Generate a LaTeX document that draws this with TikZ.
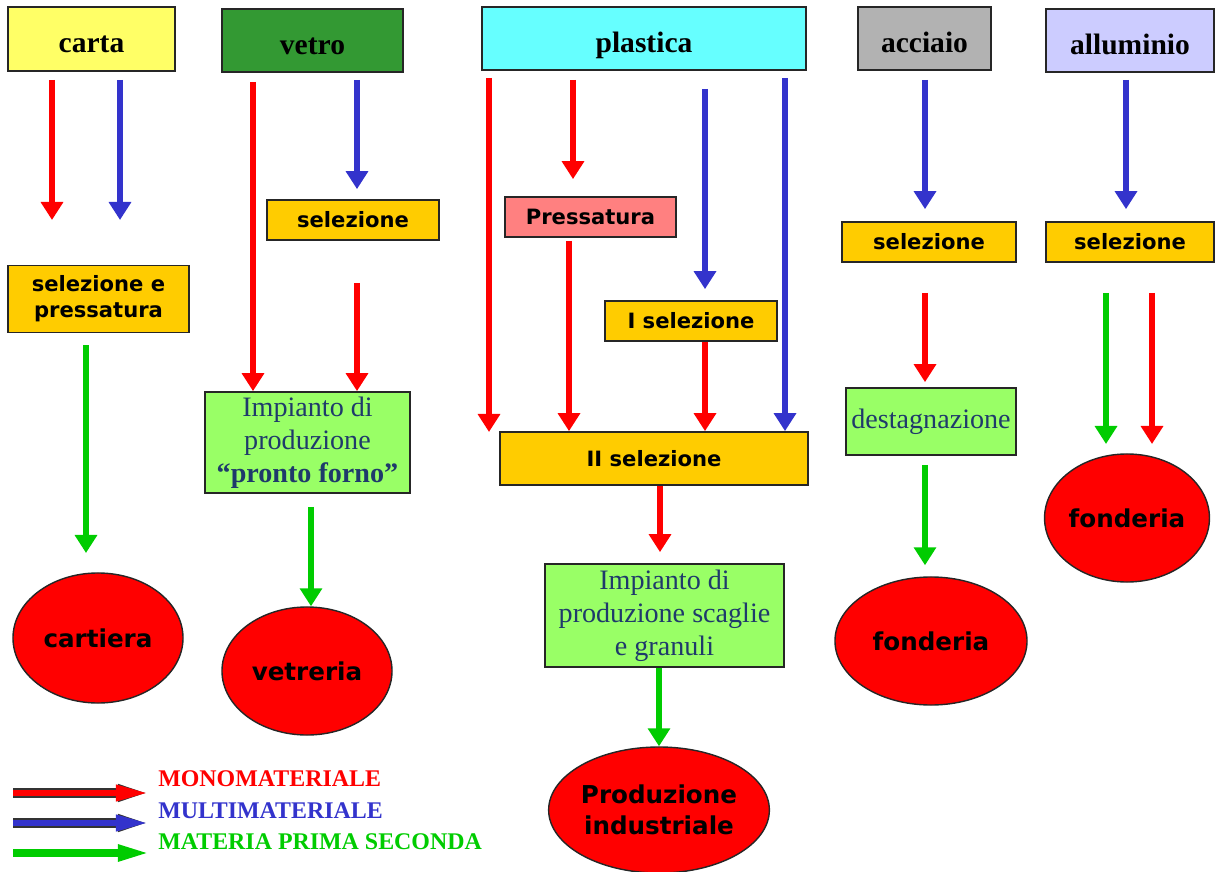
\documentclass[tikz,border=0pt]{standalone}
\usepackage{fontspec}
\setmainfont{Liberation Serif}
\setsansfont{DejaVu Sans}
\usetikzlibrary{shapes.geometric, arrows.meta, positioning, calc}
\definecolor{cartayellow}{HTML}{FFFF66}
\definecolor{vetrogreen}{HTML}{339933}
\definecolor{plasticacyan}{HTML}{66FFFF}
\definecolor{acciaiogray}{HTML}{B2B2B2}
\definecolor{alluminiolilac}{HTML}{CCCCFF}
\definecolor{selorange}{HTML}{FFCC00}
\definecolor{presspink}{HTML}{FF8080}
\definecolor{implime}{HTML}{99FF66}
\definecolor{impblue}{HTML}{1F3A6B}
\definecolor{monored}{HTML}{FF0000}
\definecolor{multiblue}{HTML}{3333CC}
\definecolor{mpsgreen}{HTML}{00CC00}
\tikzset{
  matbox/.style={
    rectangle, draw=black!85, line width=1.2pt, fill=#1,
    inner sep=0pt, text height=0.8cm, text depth=0.1cm,
    font=\fontsize{21}{24}\selectfont\bfseries
  },
  selbox/.style={
    rectangle, draw=black!85, line width=1.2pt, fill=#1,
    inner sep=0pt, align=center,
    font=\sffamily\bfseries\fontsize{15}{18.5}\selectfont
  },
  impbox/.style={
    rectangle, draw=black!85, line width=1.2pt, fill=implime,
    inner sep=0pt, align=center, text=impblue,
    font=\fontsize{20}{23.5}\selectfont
  },
  plant/.style={
    ellipse, draw=black!85, line width=1pt, fill=monored,
    inner sep=0pt, align=center,
    font=\sffamily\bfseries\fontsize{17.5}{22}\selectfont
  },
  flow/.style={line width=0.17cm, draw=#1,
    -{Triangle[width=0.54cm, length=0.45cm]}},
  mono/.style={flow=monored},
  multi/.style={flow=multiblue},
  mps/.style={flow=mpsgreen},
  legtip/.style={line width=#1,
    -{Triangle[width=0.38cm, length=0.8cm]}},
  legend/.style={anchor=west, inner sep=0pt,
    font=\fontsize{17}{20}\selectfont\bfseries}
}
\begin{document}
\begin{tikzpicture}[x=0.025cm, y=-0.025cm]
  \useasboundingbox (0,0) rectangle (1216,872);
  % materiali
  \node[matbox=cartayellow, minimum width=4.175cm, minimum height=1.6cm]
    (carta) at (91.5,39) {carta};
  \node[matbox=vetrogreen, minimum width=4.525cm, minimum height=1.575cm]
    (vetro) at (312.5,40.5) {vetro};
  \node[matbox=plasticacyan, minimum width=8.1cm, minimum height=1.575cm]
    (plastica) at (644,38.5) {plastica};
  \node[matbox=acciaiogray, minimum width=3.325cm, minimum height=1.575cm]
    (acciaio) at (924.5,38.5) {acciaio};
  \node[matbox=alluminiolilac, minimum width=4.2cm, minimum height=1.575cm]
    (alluminio) at (1130,40.5) {alluminio};
  % trattamenti
  \node[selbox=selorange, minimum width=4.525cm, minimum height=1.675cm]
    (selpress) at (98.5,299) {selezione e\\pressatura};
  \node[selbox=selorange, minimum width=4.3cm, minimum height=1cm]
    (selvetro) at (353,220) {selezione};
  \node[impbox, minimum width=5.125cm, minimum height=2.525cm]
    (impvetro) at (307.5,442.5)
    {Impianto di\\produzione\\\textbf{“pronto forno”}};
  \node[selbox=presspink, minimum width=4.275cm, minimum height=1cm]
    (pressatura) at (590.5,217) {Pressatura};
  \node[selbox=selorange, minimum width=4.3cm, minimum height=1cm]
    (isel) at (691,321) {I selezione};
  \node[selbox=selorange, minimum width=7.7cm, minimum height=1.325cm]
    (iisel) at (654,458.5) {II selezione};
  \node[impbox, minimum width=5.975cm, minimum height=2.575cm]
    (impplast) at (664.5,615.5)
    {Impianto di\\produzione scaglie\\e granuli};
  \node[selbox=selorange, minimum width=4.35cm, minimum height=1cm]
    (selacc) at (929,242) {selezione};
  \node[impbox, minimum width=4.25cm, minimum height=1.675cm]
    (destagn) at (931,421.5) {destagnazione};
  \node[selbox=selorange, minimum width=4.2cm, minimum height=1cm]
    (selall) at (1130,242) {selezione};
  % impianti finali
  \node[plant, minimum width=4.25cm, minimum height=3.25cm]
    (cartiera) at (98,638) {cartiera};
  \node[plant, minimum width=4.25cm, minimum height=3.2cm]
    (vetreria) at (307,671) {vetreria};
  \node[plant, minimum width=4.5cm, minimum height=3.15cm]
    (prodind) at (659,810) {Produzione\\industriale};
  \node[plant, minimum width=4.8cm, minimum height=3.2cm]
    (fondacc) at (931,641) {fonderia};
  \node[plant, minimum width=4cm, minimum height=3.2cm]
    (fondall) at (1127,518) {fonderia};
  % estremi liberi
  \coordinate (cartaR) at (52,220);
  \coordinate (cartaB) at (120,220);
  \coordinate (cartaG) at (86,553);
  \coordinate (plastR) at (489,432);
  \coordinate (allG) at (1106,444);
  \coordinate (allR) at (1152,444);
  % carta
  \draw[mono, shorten <=0.2cm] (carta.south -| cartaR) -- (cartaR);
  \draw[multi, shorten <=0.2cm] (carta.south -| cartaB) -- (cartaB);
  \draw[mps, shorten <=0.3cm] (selpress.south -| cartaG) -- (cartaG);
  % vetro
  \draw[mono, shorten <=0.225cm] (vetro.south -| 253,0) -- (impvetro.north -| 253,0);
  \draw[multi, shorten <=0.175cm, shorten >=0.25cm]
    (vetro.south -| 357,0) -- (selvetro.north -| 357,0);
  \draw[mono, shorten <=1.05cm] (selvetro.south -| 357,0) -- (impvetro.north -| 357,0);
  \draw[mps, shorten <=0.325cm] (impvetro.south -| 311,0) -- (vetreria.north -| 311,0);
  % plastica
  \draw[mono, shorten <=0.175cm] (plastica.south -| plastR) -- (plastR);
  \draw[mono, shorten <=0.225cm, shorten >=0.425cm]
    (plastica.south -| 573,0) -- (pressatura.north -| 573,0);
  \draw[mono, shorten <=0.075cm] (pressatura.south -| 569,0) -- (iisel.north -| 569,0);
  \draw[multi, shorten <=0.45cm, shorten >=0.275cm]
    (plastica.south -| 705,0) -- (isel.north -| 705,0);
  \draw[mono] (isel.south -| 705,0) -- (iisel.north -| 705,0);
  \draw[multi, shorten <=0.175cm] (plastica.south -| 785,0) -- (iisel.north -| 785,0);
  \draw[mono, shorten >=0.275cm] (iisel.south -| 660,0) -- (impplast.north -| 660,0);
  \draw[mps] (impplast.south -| 659,0) -- (prodind.north -| 659,0);
  % acciaio
  \draw[multi, shorten <=0.225cm, shorten >=0.3cm]
    (acciaio.south -| 925,0) -- (selacc.north -| 925,0);
  \draw[mono, shorten <=0.75cm, shorten >=0.125cm]
    (selacc.south -| 925,0) -- (destagn.north -| 925,0);
  \draw[mps, shorten <=0.225cm, shorten >=0.275cm]
    (destagn.south -| 925,0) -- (fondacc.north -| 925,0);
  % alluminio
  \draw[multi, shorten <=0.175cm, shorten >=0.3cm]
    (alluminio.south -| 1126,0) -- (selall.north -| 1126,0);
  \draw[mps, shorten <=0.75cm] (selall.south -| allG) -- (allG);
  \draw[mono, shorten <=0.75cm] (selall.south -| allR) -- (allR);
  % legenda
  \coordinate (legMonoA) at (13,793);   \coordinate (legMonoB) at (150,793);
  \coordinate (legMultiA) at (13,823);  \coordinate (legMultiB) at (150,823);
  \coordinate (legMpsA) at (13,853);    \coordinate (legMpsB) at (150,853);
  \draw[legtip=0.24cm, draw=black!80, fill=black!80] (legMonoA) -- (legMonoB);
  \draw[legtip=0.15cm, draw=monored, fill=monored, shorten >=0.05cm] (legMonoA) -- (legMonoB);
  \draw[legtip=0.24cm, draw=black!80, fill=black!80] (legMultiA) -- (legMultiB);
  \draw[legtip=0.15cm, draw=multiblue, fill=multiblue, shorten >=0.05cm] (legMultiA) -- (legMultiB);
  \draw[legtip=0.18cm, draw=mpsgreen, fill=mpsgreen] (legMpsA) -- (legMpsB);
  \node[legend, text=monored] (legMono) at (158,779) {MONOMATERIALE};
  \node[legend, text=multiblue] (legMulti) at (158,811) {MULTIMATERIALE};
  \node[legend, text=mpsgreen] (legMps) at (158,842) {MATERIA PRIMA SECONDA};
\end{tikzpicture}
\end{document}
